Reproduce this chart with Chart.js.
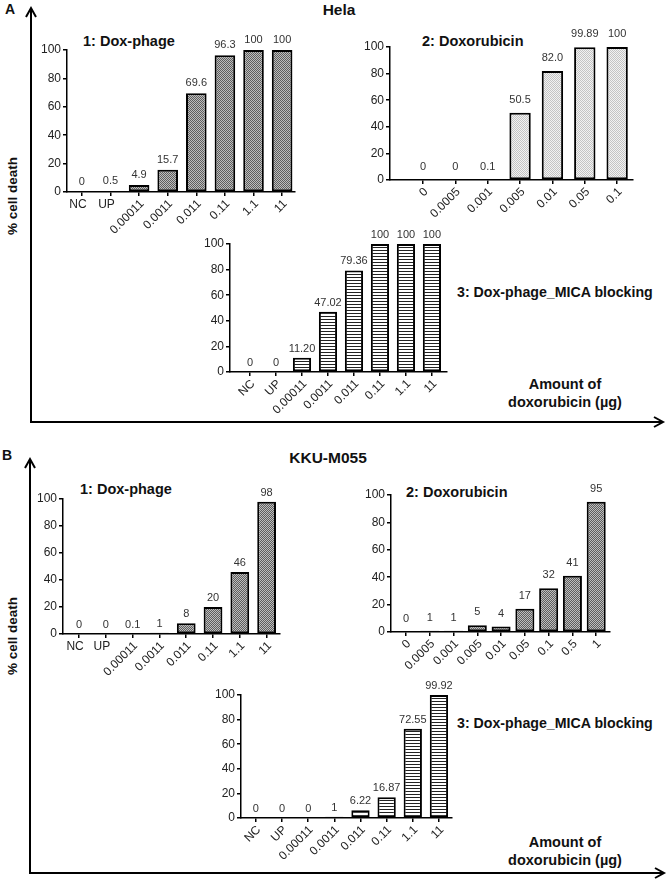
<!DOCTYPE html>
<html>
<head>
<meta charset="utf-8">
<script src="https://cdn.jsdelivr.net/npm/chart.js@4.4.1/dist/chart.umd.min.js"></script>
<style>
  body { margin: 0; background: #fff; width: 667px; height: 879px; position: relative; overflow: hidden;
         font-family: "Liberation Sans", Arial, sans-serif; }
  canvas { position: absolute; }
  svg { position: absolute; left: 0; top: 0; }
  .t { position: absolute; font-weight: bold; white-space: nowrap; color: #111; line-height: 1; }
</style>
</head>
<body>
<svg width="667" height="879">
  <g stroke="#000" stroke-width="2" fill="none">
    <polyline points="31,9 31,422 662,422" />
    <polyline points="26,17 31,8 36,17" />
    <polyline points="654,417 663,422 654,427" />
    <polyline points="30,460 30,873 663,873" />
    <polyline points="25,468 30,459 35,468" />
    <polyline points="655,868 664,873 655,878" />
  </g>
</svg>
<div id="texts"></div>

<script>
/* ── Data ───────────────────────────────────────────────────── */

const phageDoses   = ["NC", "UP", "0.00011", "0.0011", "0.011", "0.11", "1.1", "11"];
const helaDoxDoses = ["0", "0.0005", "0.001", "0.005", "0.01", "0.05", "0.1"];
const kkuDoxDoses  = ["0", "0.0005", "0.001", "0.005", "0.01", "0.05", "0.1", "0.5", "1"];
const yTicks       = [0, 20, 40, 60, 80, 100];

// % cell death, kept as printed on the figure
const helaPhage = ["0", "0.5", "4.9", "15.7", "69.6", "96.3", "100", "100"];
const helaDox   = ["0", "0", "0.1", "50.5", "82.0", "99.89", "100"];
const helaMica  = ["0", "0", "11.20", "47.02", "79.36", "100", "100", "100"];
const kkuPhage  = ["0", "0", "0.1", "1", "8", "20", "46", "98"];
const kkuDox    = ["0", "1", "1", "5", "4", "17", "32", "41", "95"];
const kkuMica   = ["0", "0", "0", "1", "6.22", "16.87", "72.55", "99.92"];

/* ── Layout (plot box on the page: left, top, right, bottom) ── */

const panels = [
  { labels: phageDoses,   values: helaPhage, fill: "dense",  box: [67, 50, 295, 192],  span: [-0.52, 7.45], bar: 0.72, lift: 10, flat: 2 },
  { labels: helaDoxDoses, values: helaDox,   fill: "light",  box: [390, 47, 633, 180], span: [-1.02, 6.49], bar: 0.66, lift: 13, flat: 0 },
  { labels: phageDoses,   values: helaMica,  fill: "stripe", box: [230, 244, 447, 372], span: [-0.77, 7.58], bar: 0.70, lift: 9,  flat: 0 },
  { labels: phageDoses,   values: kkuPhage,  fill: "dense",  box: [63, 499, 280, 634],  span: [-0.60, 7.50], bar: 0.70, lift: 9,  flat: 2 },
  { labels: kkuDoxDoses,  values: kkuDox,    fill: "dense",  box: [391, 495, 610, 632], span: [-0.63, 8.58], bar: 0.80, lift: 13, flat: 0 },
  { labels: phageDoses,   values: kkuMica,   fill: "stripe", box: [241, 695, 452, 818], span: [-0.57, 7.50], bar: 0.70, lift: 9,  flat: 0 },
];

const FONT = '"Liberation Sans", Arial, sans-serif';
const PAD_TOP = 30, Y_W = 45, X_H = 60, PAD_R = 8;

/* ── Fill patterns ──────────────────────────────────────────── */

function makePattern(kind) {
  const c = document.createElement("canvas");
  const g = c.getContext("2d");
  if (kind === "stripe") {
    c.width = 1; c.height = 3;
    g.fillStyle = "#fff"; g.fillRect(0, 0, 1, 3);
    g.fillStyle = "#222"; g.fillRect(0, 0, 1, 1);
  } else {
    const dark  = kind === "dense" ? "#5e5e5e" : "#c4c4c4";
    const light = kind === "dense" ? "#bdbdbd" : "#f2f2f2";
    c.width = 2; c.height = 2;
    g.fillStyle = light; g.fillRect(0, 0, 2, 2);
    g.fillStyle = dark;  g.fillRect(0, 0, 1, 1); g.fillRect(1, 1, 1, 1);
  }
  return g.createPattern(c, "repeat");
}

/* ── Value labels + category labels ─────────────────────────── */

function annotate(p) {
  return {
    id: "annotate",
    afterDatasetsDraw(chart) {
      const ctx = chart.ctx;
      const meta = chart.getDatasetMeta(0);
      const xs = chart.scales.x;
      const bottom = chart.chartArea.bottom;
      ctx.save();
      ctx.fillStyle = "#333";
      ctx.textBaseline = "middle";
      ctx.textAlign = "center";
      ctx.font = "11px " + FONT;
      meta.data.forEach((bar, i) => ctx.fillText(p.values[i], bar.x, bar.y - p.lift));

      ctx.fillStyle = "#222";
      ctx.font = "12px " + FONT;
      p.labels.forEach((lab, i) => {
        const x = xs.getPixelForValue(i);
        if (i < p.flat) {
          ctx.textAlign = "center";
          ctx.fillText(lab, x - 4, bottom + 13);
        } else {
          ctx.save();
          ctx.translate(x + 3, bottom + 10);
          ctx.rotate(-Math.PI / 4);
          ctx.textAlign = "right";
          ctx.fillText(lab, 0, 0);
          ctx.restore();
        }
      });
      ctx.restore();
    }
  };
}

/* ── Build charts ───────────────────────────────────────────── */

const axisLine = { color: "#000", width: 1.5 };
const tickMarks = { drawOnChartArea: false, drawTicks: true, tickLength: 4, color: "#000", lineWidth: 1.5 };

panels.forEach(p => {
  const [L, T, R, B] = p.box;
  const cv = document.createElement("canvas");
  cv.width = R - L + Y_W + PAD_R;
  cv.height = B - T + PAD_TOP + X_H;
  cv.style.left = (L - Y_W) + "px";
  cv.style.top = (T - PAD_TOP) + "px";
  document.body.appendChild(cv);

  new Chart(cv, {
    type: "bar",
    data: {
      datasets: [{
        data: p.values.map((v, i) => ({ x: i, y: Number(v) })),
        backgroundColor: makePattern(p.fill),
        borderColor: "#000",
        borderWidth: 2,
        borderSkipped: false,
        categoryPercentage: 1,
        barPercentage: p.bar,
      }]
    },
    options: {
      responsive: false,
      animation: false,
      devicePixelRatio: 1,
      layout: { padding: { top: PAD_TOP, right: PAD_R, left: 0, bottom: 0 } },
      plugins: { legend: { display: false }, tooltip: { enabled: false } },
      scales: {
        x: {
          type: "linear",
          offset: false,
          bounds: "data",
          min: p.span[0],
          max: p.span[1],
          afterBuildTicks: s => { s.ticks = p.labels.map((_, i) => ({ value: i })); },
          afterFit: s => { s.height = X_H; },
          ticks: { display: false },
          grid: { ...tickMarks, offset: false },
          border: axisLine,
        },
        y: {
          min: 0,
          max: 100,
          afterBuildTicks: s => { s.ticks = yTicks.map(v => ({ value: v })); },
          afterFit: s => { s.width = Y_W; },
          ticks: { color: "#222", padding: 2, font: { family: FONT, size: 12 } },
          grid: tickMarks,
          border: axisLine,
        }
      }
    },
    plugins: [annotate(p)]
  });
});

/* ── Static text ────────────────────────────────────────────── */

function addText(txt, x, y, size, anchor, rot) {
  const d = document.createElement("div");
  d.className = "t";
  d.textContent = txt;
  d.style.left = x + "px";
  d.style.top = y + "px";
  d.style.fontSize = size + "px";
  const tx = anchor === "center" ? "-50%" : "0";
  d.style.transform = `translate(${tx},-50%)` + (rot ? ` rotate(${rot}deg)` : "");
  document.getElementById("texts").appendChild(d);
}

addText("A", 5, 9, 14, "left");
addText("B", 2, 455, 14, "left");
addText("Hela", 339, 10, 15.5, "center");
addText("KKU-M055", 328, 458, 15.5, "center");
addText("% cell death", 13, 196, 13.5, "center", -90);
addText("% cell death", 13, 636, 13.5, "center", -90);

addText("1: Dox-phage", 83, 41, 14.5, "left");
addText("2: Doxorubicin", 422, 41, 14.5, "left");
addText("3: Dox-phage_MICA blocking", 457, 292, 14.2, "left");
addText("1: Dox-phage", 80, 489, 14.5, "left");
addText("2: Doxorubicin", 406, 492, 14.5, "left");
addText("3: Dox-phage_MICA blocking", 457, 723, 14.2, "left");

addText("Amount of", 565, 384, 14.5, "center");
addText("doxorubicin (µg)", 565, 402, 14.5, "center");
addText("Amount of", 565, 842, 14.5, "center");
addText("doxorubicin (µg)", 565, 860, 14.5, "center");
</script>
</body>
</html>
